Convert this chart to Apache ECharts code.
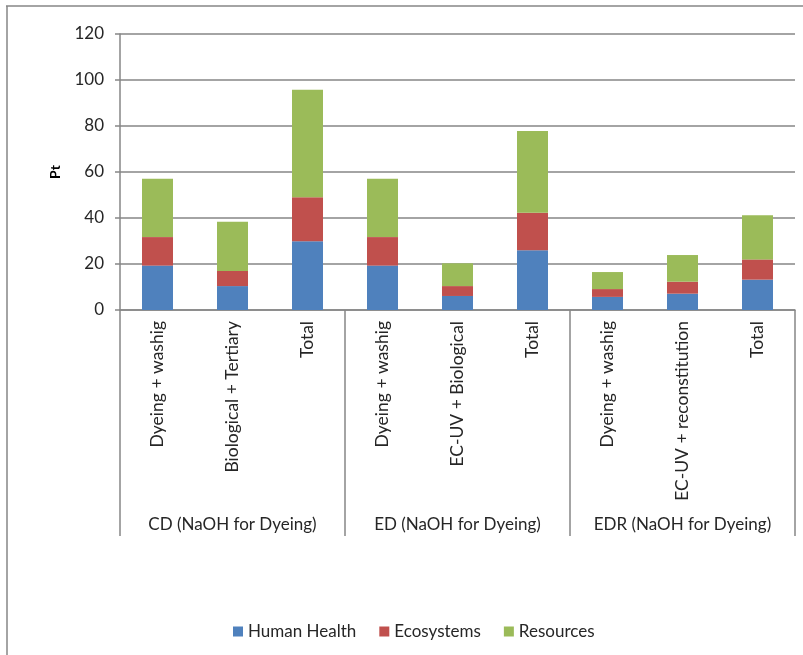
<!DOCTYPE html>
<html>
<head>
<meta charset="utf-8">
<script src="https://cdn.jsdelivr.net/npm/echarts@6/dist/echarts.min.js"></script>
<style>html,body{margin:0;padding:0;background:#fff}#c{width:803px;height:655px}</style>
</head>
<body>
<div id="c"></div>
<script>
const categories = ["Dyeing + washig", "Biological + Tertiary", "Total", "Dyeing + washig", "EC-UV + Biological", "Total", "Dyeing + washig", "EC-UV + reconstitution", "Total"];
const groups = ["CD (NaOH for Dyeing)", "ED (NaOH for Dyeing)", "EDR (NaOH for Dyeing)"];
const humanHealth = [19.3, 10.4, 29.9, 19.3, 6.1, 26.0, 5.7, 7.1, 13.2];
const ecosystems = [12.4, 6.6, 19.1, 12.4, 4.3, 16.3, 3.4, 5.2, 8.8];
const resources = [25.4, 21.4, 46.8, 25.4, 9.9, 35.5, 7.4, 11.6, 19.2];
const yTicks = [0, 20, 40, 60, 80, 100, 120];

const chart = echarts.init(document.getElementById('c'));
const gray = '#868686';
const FONT = 'Lato';
const TXT = '#262626';
chart.setOption({
  animation: false,
  graphic: [
    {type: 'line', shape: {x1: 6, y1: 6, x2: 803, y2: 6}, style: {stroke: gray, lineWidth: 1.5}},
    {type: 'line', shape: {x1: 7, y1: 6, x2: 7, y2: 655}, style: {stroke: gray, lineWidth: 1.5}}
  ],
  grid: {left: 120, right: 8, top: 34, bottom: 345},
  legend: {
    top: 618, left: 228, itemWidth: 10, itemHeight: 10, itemGap: 23, icon: 'rect',
    textStyle: {fontFamily: FONT, fontSize: 17, color: TXT},
    data: ['Human Health', 'Ecosystems', 'Resources']
  },
  xAxis: [
    {
      type: 'category', data: categories, position: 'bottom',
      axisLine: {show: true, lineStyle: {color: gray, width: 1.5}},
      axisTick: {show: false},
      axisLabel: {rotate: 90, margin: 11, interval: 0, fontFamily: FONT, fontSize: 17.5, color: TXT}
    },
    {
      type: 'category', data: groups, position: 'bottom',
      axisLine: {show: false},
      axisTick: {show: true, length: 226, lineStyle: {color: gray, width: 1.5}},
      axisLabel: {margin: 206, interval: 0, fontFamily: FONT, fontSize: 17, color: TXT}
    }
  ],
  yAxis: {
    type: 'value', min: yTicks[0], max: yTicks[yTicks.length - 1], interval: 20,
    name: 'Pt', nameLocation: 'middle', nameGap: 58, nameRotate: 90,
    nameTextStyle: {fontFamily: FONT, fontWeight: 'bold', fontSize: 14, color: '#000'},
    axisLine: {show: true, lineStyle: {color: gray, width: 1.5}},
    axisTick: {show: true, length: 5, lineStyle: {color: gray, width: 1.5}},
    axisLabel: {margin: 16, fontFamily: FONT, fontSize: 17, color: TXT},
    splitLine: {show: true, lineStyle: {color: gray, width: 1.5}}
  },
  series: [
    {name: 'Human Health', type: 'bar', stack: 's', data: humanHealth, barWidth: 31, itemStyle: {color: '#4F81BD'}},
    {name: 'Ecosystems', type: 'bar', stack: 's', data: ecosystems, barWidth: 31, itemStyle: {color: '#C0504D'}},
    {name: 'Resources', type: 'bar', stack: 's', data: resources, barWidth: 31, itemStyle: {color: '#9BBB59'}}
  ]
});
</script>
</body>
</html>
